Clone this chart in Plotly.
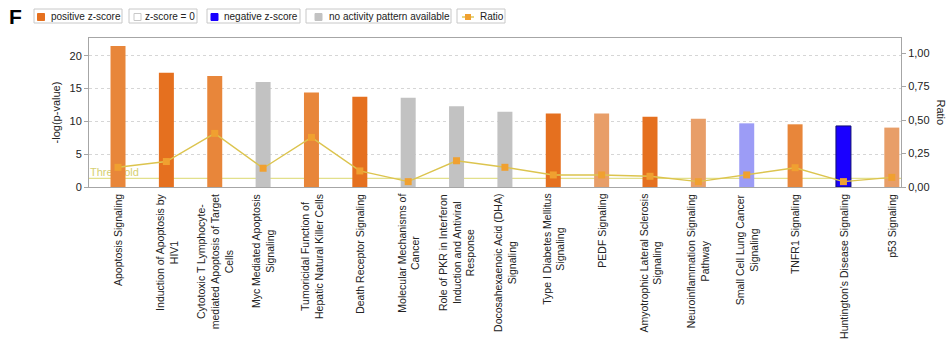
import plotly.graph_objects as go

# Canonical pathways (multi-line labels use <br>)
pathways = [
    "Apoptosis Signaling",
    "Induction of Apoptosis by<br>HIV1",
    "Cytotoxic T Lymphocyte-<br>mediated Apoptosis of Target<br>Cells",
    "Myc Mediated Apoptosis<br>Signaling",
    "Tumoricidal Function of<br>Hepatic Natural Killer Cells",
    "Death Receptor Signaling",
    "Molecular Mechanisms of<br>Cancer",
    "Role of PKR in Interferon<br>Induction and Antiviral<br>Response",
    "Docosahexaenoic Acid (DHA)<br>Signaling",
    "Type I Diabetes Mellitus<br>Signaling",
    "PEDF Signaling",
    "Amyotrophic Lateral Sclerosis<br>Signaling",
    "Neuroinflammation Signaling<br>Pathway",
    "Small Cell Lung Cancer<br>Signaling",
    "TNFR1 Signaling",
    "Huntington's Disease Signaling",
    "p53 Signaling",
]

# -log(p-value) per pathway
neg_log_p = [21.5, 17.4, 16.9, 16.0, 14.4, 13.75, 13.6, 12.3, 11.45,
             11.2, 11.2, 10.7, 10.4, 9.7, 9.55, 9.3, 9.05]

# Ratio of genes in dataset / genes in pathway
ratio = [0.147, 0.19, 0.40, 0.14, 0.37, 0.12, 0.04, 0.196, 0.147,
         0.09, 0.09, 0.08, 0.04, 0.09, 0.144, 0.04, 0.072]

# z-score pattern for each pathway
z_status = ["pos", "pos_strong", "pos", "none", "pos", "pos_strong", "none",
            "none", "none", "pos_strong", "pos_weak", "pos_strong", "pos_weak",
            "neg_weak", "pos", "neg_strong", "pos_weak"]

threshold = 1.3

left_ticks = [0, 5, 10, 15, 20]
right_ticks = [0, 0.25, 0.5, 0.75, 1.0]

legend_labels = ["positive z-score", "z-score = 0", "negative z-score",
                 "no activity pattern available", "Ratio"]

# ---- styling ----
FONT = "Liberation Sans, Arial, sans-serif"
status_colors = {
    "pos_strong": "#E5701F",
    "pos": "#E8863A",
    "pos_weak": "#E89E68",
    "none": "#C2C2C2",
    "neg_strong": "#1A00FF",
    "neg_weak": "#9C9CF6",
}
bar_colors = [status_colors[s] for s in z_status]
bar_line_w = [1 if s == "neg_strong" else 0 for s in z_status]
RATIO_LINE = "#DCC44E"
RATIO_MARK = "#F0A030"
THRESH = "#E2E08C"
AXIS = "#A6A6A6"

X_RANGE = [-0.6, 16.19]
Y_RANGE = [0, 22.7]
Y2_RANGE = [0, 1.112]

W, H = 952, 340
ML, MR, MT, MB = 89, 51, 38, 153
PW, PH = W - ML - MR, H - MT - MB


def fx(px):
    return (px - ML) / PW


def fy(py):
    return (H - MB - py) / PH


xpos = list(range(len(pathways)))

fig = go.Figure()

# Threshold label (kept beneath the bars)
fig.add_trace(go.Scatter(
    x=[X_RANGE[0] + 0.02], y=[threshold], mode="text", text=["Threshold"],
    textposition="top right", textfont=dict(family=FONT, size=11, color="#D6CF72"),
    hoverinfo="skip", xaxis="x", yaxis="y",
))

# Bars on overlay axis y2 (same scale as left axis)
fig.add_trace(go.Bar(
    x=xpos, y=neg_log_p, width=0.31,
    marker=dict(color=bar_colors, line=dict(color="#101070", width=bar_line_w)),
    xaxis="x", yaxis="y2",
))

# Ratio line on right axis
fig.add_trace(go.Scatter(
    x=xpos, y=ratio, mode="lines+markers",
    line=dict(color=RATIO_LINE, width=1.4),
    marker=dict(symbol="square", size=7, color=RATIO_MARK),
    xaxis="x", yaxis="y3",
))

shapes = [
    dict(type="line", xref="paper", x0=0, x1=1, yref="y", y0=threshold, y1=threshold,
         line=dict(color=THRESH, width=1.2), layer="below"),
]

annotations = []

# Category labels, rotated, hanging below the axis
for i, lab in enumerate(pathways):
    annotations.append(dict(
        x=xpos[i], xref="x", y=fy(192), yref="paper", text=lab, textangle=-90,
        showarrow=False, xanchor="center", yanchor="top", align="center",
        font=dict(family=FONT, size=10.5, color="#222222"),
    ))

# Right axis title
annotations.append(dict(
    x=fx(941), xref="paper", y=0.5, yref="paper", text="Ratio", textangle=90,
    showarrow=False, xanchor="center", yanchor="middle",
    font=dict(family=FONT, size=11, color="#222222"),
))

# Panel letter
annotations.append(dict(
    x=fx(7), xref="paper", y=fy(16), yref="paper", text="<b>F</b>",
    showarrow=False, xanchor="left", yanchor="middle",
    font=dict(family=FONT, size=21, color="#000000"),
))

# Hand-built legend: one bordered box per entry
boxes = [(34, 122), (129, 197), (207, 300), (306, 451), (457, 505)]
text_x = [49, 143, 222, 327, 478]
for (bx0, bx1), tx, lab in zip(boxes, text_x, legend_labels):
    shapes.append(dict(type="rect", xref="paper", yref="paper",
                       x0=fx(bx0), x1=fx(bx1), y0=fy(23), y1=fy(9),
                       line=dict(color="#C8C8C8", width=1), fillcolor="#FFFFFF"))
    annotations.append(dict(
        x=fx(tx), xref="paper", y=fy(16.5), yref="paper", text=lab,
        showarrow=False, xanchor="left", yanchor="middle",
        font=dict(family=FONT, size=10, color="#222222"),
    ))

swatches = [(37.5, status_colors["pos_strong"], status_colors["pos_strong"]),
            (134, "#FFFFFF", "#C8C8C8"),
            (211, status_colors["neg_strong"], status_colors["neg_strong"]),
            (315, status_colors["none"], status_colors["none"])]
for sx, fill, edge in swatches:
    shapes.append(dict(type="rect", xref="paper", yref="paper",
                       x0=fx(sx), x1=fx(sx + 7), y0=fy(20.5), y1=fy(13.5),
                       line=dict(color=edge, width=1), fillcolor=fill))
# Ratio swatch: short line with a square
shapes.append(dict(type="line", xref="paper", yref="paper",
                   x0=fx(462), x1=fx(474), y0=fy(17), y1=fy(17),
                   line=dict(color=RATIO_LINE, width=1.4)))
shapes.append(dict(type="rect", xref="paper", yref="paper",
                   x0=fx(465), x1=fx(471), y0=fy(20), y1=fy(14),
                   line=dict(color=RATIO_MARK, width=0), fillcolor=RATIO_MARK))

fig.update_layout(
    width=W, height=H,
    margin=dict(l=ML, r=MR, t=MT, b=MB, pad=0),
    paper_bgcolor="#FFFFFF", plot_bgcolor="#FFFFFF",
    showlegend=False, separators=", ",
    font=dict(family=FONT, size=11, color="#222222"),
    xaxis=dict(range=X_RANGE, showgrid=False, zeroline=False, showline=True,
               mirror=True, linecolor=AXIS, linewidth=1, showticklabels=False,
               ticks=""),
    yaxis=dict(range=Y_RANGE, tickvals=left_ticks, ticks="outside", ticklen=4,
               tickcolor=AXIS, showgrid=True, gridcolor="#D6D6D6", griddash="dot",
               showline=True, linecolor=AXIS, zeroline=False,
               tickfont=dict(family=FONT, size=11, color="#222222"),
               title=dict(text="-log(p-value)", standoff=6,
                          font=dict(family=FONT, size=11, color="#222222"))),
    yaxis2=dict(range=Y_RANGE, overlaying="y", visible=False),
    yaxis3=dict(range=Y2_RANGE, overlaying="y", side="right", tickvals=right_ticks,
                tickformat=".2f", ticks="outside", ticklen=4, tickcolor=AXIS,
                showgrid=False, showline=True, linecolor=AXIS, zeroline=False,
                tickfont=dict(family=FONT, size=11, color="#222222")),
    shapes=shapes, annotations=annotations,
)

fig.write_html("out.html")
